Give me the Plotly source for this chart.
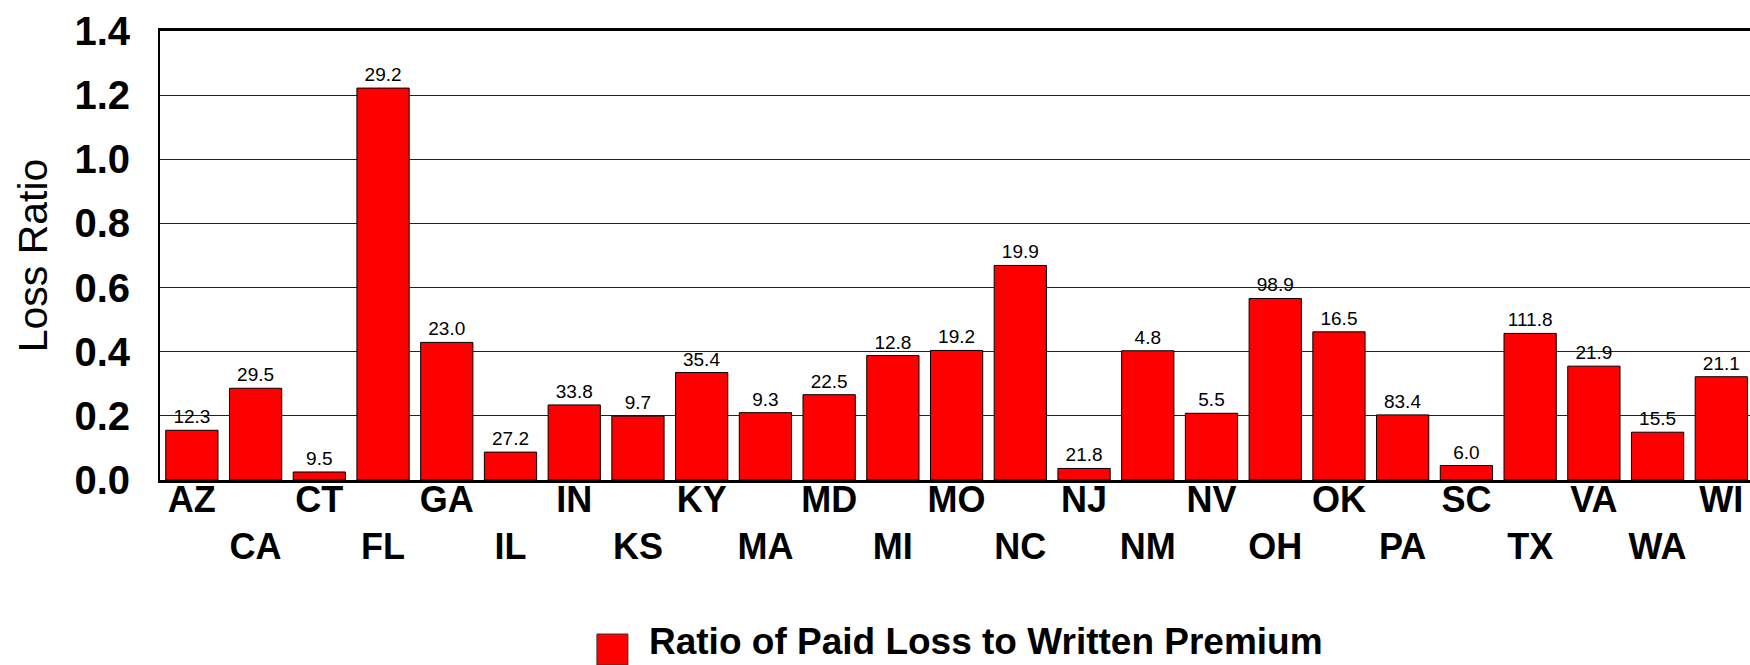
import plotly.graph_objects as go

states = ["AZ", "CA", "CT", "FL", "GA", "IL", "IN", "KS", "KY", "MA", "MD", "MI", "MO",
          "NC", "NJ", "NM", "NV", "OH", "OK", "PA", "SC", "TX", "VA", "WA", "WI"]
loss_ratio = [0.155, 0.286, 0.025, 1.222, 0.429, 0.087, 0.234, 0.199, 0.335, 0.210, 0.266, 0.388, 0.404,
              0.669, 0.036, 0.403, 0.208, 0.566, 0.462, 0.203, 0.045, 0.457, 0.355, 0.149, 0.322]
bar_labels = ["12.3", "29.5", "9.5", "29.2", "23.0", "27.2", "33.8", "9.7", "35.4", "9.3", "22.5", "12.8", "19.2",
              "19.9", "21.8", "4.8", "5.5", "98.9", "16.5", "83.4", "6.0", "111.8", "21.9", "15.5", "21.1"]
y_ticks = [0.0, 0.2, 0.4, 0.6, 0.8, 1.0, 1.2, 1.4]
series_name = "Ratio of Paid Loss to Written Premium"
y_title = "Loss Ratio"

FONT = "Liberation Sans, Arial, sans-serif"

# staggered category labels: odd positions pushed to a second row
tick_text = [s if i % 2 == 0 else "<br>" + s for i, s in enumerate(states)]

fig = go.Figure()
fig.add_trace(go.Bar(
    x=states, y=loss_ratio, text=bar_labels, name=series_name,
    textposition="outside", constraintext="none", cliponaxis=False,
    textfont=dict(family=FONT, size=19, color="black"),
    marker=dict(color="#FF0000", line=dict(color="black", width=1)),
    showlegend=False,
))

fig.update_layout(
    width=1750, height=665,
    margin=dict(l=160, r=0, t=31, b=185),
    paper_bgcolor="white", plot_bgcolor="white",
    bargap=0.18,
    font=dict(family=FONT, color="black"),
    xaxis=dict(
        range=[-0.5, 24.45],
        tickmode="array", tickvals=states, ticktext=tick_text,
        tickfont=dict(family=FONT, size=36, color="black", weight="bold"),
        ticks="", ticklabelstandoff=-14,
        showline=True, linecolor="black", linewidth=3, mirror=True,
        showgrid=False,
    ),
    yaxis=dict(
        range=[0, 1.4], tickmode="array", tickvals=y_ticks, tickformat=".1f",
        tickfont=dict(family=FONT, size=40, color="black", weight="bold"),
        ticks="", ticklabelstandoff=20,
        showline=True, linecolor="black", linewidth=2,
        showgrid=True, gridcolor="#222222", gridwidth=1,
        zeroline=False,
        title=dict(text=y_title, font=dict(family=FONT, size=41, color="black"), standoff=14),
    ),
)

# legend key (square + label) below the category labels
fig.add_shape(type="rect", xref="paper", yref="paper",
              x0=0.2748, x1=0.2943, y0=-0.412, y1=-0.343,
              fillcolor="#FF0000", line=dict(color="#333333", width=1))
fig.add_annotation(text=series_name, xref="paper", yref="paper",
                   x=0.3063, y=-0.3586, xanchor="left", yanchor="middle", showarrow=False,
                   font=dict(family=FONT, size=37, color="black", weight="bold"))

fig.write_html("out.html", config={"displayModeBar": False},
               post_script="document.body.style.margin='0px';")
